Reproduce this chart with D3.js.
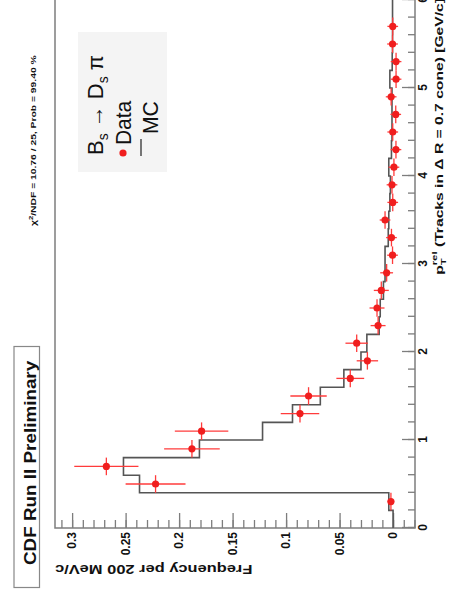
<!DOCTYPE html>
<html>
<head>
<meta charset="utf-8">
<script src="https://cdnjs.cloudflare.com/ajax/libs/d3/7.8.5/d3.min.js"></script>
<style>
  html, body { margin: 0; padding: 0; background: #fff; }
  svg { display: block; font-family: "Liberation Sans", "DejaVu Sans", Arial, sans-serif; }
</style>
</head>
<body>
<svg id="chart" width="451" height="602"></svg>
<script>
// MC histogram (low edge of each 200 MeV bin, frequency)
const mcLow = [0.0, 0.2, 0.4, 0.6, 0.8, 1.0, 1.2, 1.4, 1.6, 1.8,
               2.0, 2.2, 2.4, 2.6, 2.8, 3.0, 3.2, 3.4, 3.6, 3.8,
               4.0, 4.2, 4.4, 4.6, 4.8, 5.0, 5.2, 5.4, 5.6, 5.8]
const mcFreq = [0.000, 0.004, 0.237, 0.252, 0.181, 0.122, 0.094, 0.068, 0.046, 0.030,
                0.0245, 0.013, 0.012, 0.009, 0.0075, 0.0075, 0.0045, 0.004, 0.003, 0.0025,
                0.004, 0.0015, 0.001, 0.001, 0.001, 0.003, 0.0008, 0.0005, 0.0005, 0.0005]

// data points (bin centre, frequency, error)
const dataPt = [0.3, 0.5, 0.7, 0.9, 1.1, 1.3, 1.5, 1.7, 1.9, 2.1,
                2.3, 2.5, 2.7, 2.9, 3.1, 3.3, 3.5, 3.7, 3.9, 4.1,
                4.3, 4.5, 4.7, 4.9, 5.1, 5.3, 5.5, 5.7]
const dataFreq = [0.002, 0.222, 0.268, 0.188, 0.179, 0.087, 0.079, 0.040, 0.024, 0.034,
                  0.014, 0.015, 0.011, 0.006, 0.0005, 0.0015, 0.0075, 0.0003, 0.001, -0.0008,
                  -0.0027, 0.0003, -0.0025, 0.0018, -0.0028, -0.0028, 0.0005, 0.0003]
const dataErr = [0.003, 0.028, 0.030, 0.026, 0.025, 0.018, 0.017, 0.013, 0.010, 0.0105,
                 0.007, 0.007, 0.007, 0.006, 0.005, 0.005, 0.005, 0.005, 0.005, 0.005,
                 0.005, 0.005, 0.005, 0.005, 0.005, 0.005, 0.005, 0.005]

const ptTicks = [0, 1, 2, 3, 4, 5, 6]
const freqTicks = [0, 0.05, 0.1, 0.15, 0.2, 0.25, 0.3]

// the plot is drawn upright (602 x 451) and then turned a quarter turn
let svg = d3.select("#chart")
let chart = svg.append("g").attr("transform", "translate(0,602) rotate(-90)")

let x = d3.scaleLinear().domain([0, 6]).range([74, 602])
let y = d3.scaleLinear().domain([-0.0205, 0.316]).range([415, 55])

// squeeze/stretch a text so that it covers a given width
function fit(text, target) {
  let w = text.node().getBBox().width
  let anchor = text.attr("text-anchor") || "start"
  text.attr("transform", "scale(" + (target / w) + ",1)")
}

// frame
chart.append("rect")
  .attr("x", 74).attr("y", 55)
  .attr("width", 540).attr("height", 360)
  .attr("fill", "none").attr("stroke", "#7d7d7d").attr("stroke-width", 1.5)

// axes
function styleAxis(g) {
  g.select(".domain").remove()
  g.selectAll(".tick line").attr("stroke", "#7d7d7d").attr("stroke-width", 1.3)
  g.selectAll(".tick text").attr("fill", "#111").attr("font-size", 12)
    .attr("font-weight", "bold").attr("font-family", "Liberation Sans, Arial, sans-serif")
}

chart.append("g").attr("transform", "translate(0,415)")
  .call(d3.axisBottom(x).tickValues(d3.range(0, 6.01, 0.2)).tickSize(-7).tickFormat(""))
  .call(styleAxis)
chart.append("g").attr("transform", "translate(0,415)")
  .call(d3.axisBottom(x).tickValues(ptTicks).tickSize(-13).tickPadding(3).tickFormat(d3.format("d")))
  .call(styleAxis)

chart.append("g").attr("transform", "translate(74,0)")
  .call(d3.axisLeft(y).tickValues(d3.range(-0.02, 0.3101, 0.01)).tickSize(-8).tickFormat(""))
  .call(styleAxis)
chart.append("g").attr("transform", "translate(74,0)")
  .call(d3.axisLeft(y).tickValues(freqTicks).tickSize(-15).tickPadding(4)
    .tickFormat(function(d) { return String(+d.toFixed(2)) }))
  .call(styleAxis)

// axis titles
let xt = chart.append("g").attr("transform", "translate(604,443)")
  .append("text").attr("text-anchor", "end")
  .attr("font-size", 11).attr("font-weight", "bold").attr("fill", "#111")
xt.append("tspan").text("p")
xt.append("tspan").attr("font-size", 8).attr("dy", 3).text("T")
xt.append("tspan").attr("font-size", 8).attr("dy", -9).attr("dx", -5).text("rel")
xt.append("tspan").attr("dy", 6).text(" (Tracks in \u0394 R = 0.7 cone) [GeV/c]")
fit(xt, 277)

let yt = chart.append("g").attr("transform", "translate(37,55) rotate(-90)")
  .append("text").attr("text-anchor", "end")
  .attr("font-size", 12).attr("font-weight", "bold").attr("fill", "#111")
  .text("Frequency per 200 MeV/c")
fit(yt, 198)

// MC histogram
let step = d3.line()
  .x(function(d) { return x(d[0]) })
  .y(function(d) { return y(d[1]) })
  .curve(d3.curveStepAfter)
let mcPts = mcLow.map(function(lo, i) { return [lo, mcFreq[i]] })
mcPts.push([6.0, mcFreq[mcFreq.length - 1]])
chart.append("path")
  .attr("d", step(mcPts))
  .attr("fill", "none").attr("stroke", "#555").attr("stroke-width", 1.6)

// data with error bars
let pts = chart.append("g").selectAll("g")
  .data(dataPt.map(function(p, i) { return {pt: p, f: dataFreq[i], e: dataErr[i]} }))
  .enter().append("g")
pts.append("line")
  .attr("x1", function(d) { return x(d.pt - 0.1) })
  .attr("x2", function(d) { return x(d.pt + 0.1) })
  .attr("y1", function(d) { return y(d.f) })
  .attr("y2", function(d) { return y(d.f) })
  .attr("stroke", "#ff3b3b").attr("stroke-width", 1.3)
pts.append("line")
  .attr("x1", function(d) { return x(d.pt) })
  .attr("x2", function(d) { return x(d.pt) })
  .attr("y1", function(d) { return y(d.f - d.e) })
  .attr("y2", function(d) { return y(d.f + d.e) })
  .attr("stroke", "#ff3b3b").attr("stroke-width", 1.3)
pts.append("circle")
  .attr("cx", function(d) { return x(d.pt) })
  .attr("cy", function(d) { return y(d.f) })
  .attr("r", 3.6)
  .attr("fill", "#f01e1e")

// fit quality
let chi = chart.append("g").attr("transform", "translate(376,36)")
  .append("text").attr("font-size", 8).attr("font-weight", "bold").attr("fill", "#111")
chi.append("tspan").text("\u03c7")
chi.append("tspan").attr("font-size", 6).attr("dy", -3).text("2")
chi.append("tspan").attr("dy", 3).text("/NDF = 10.76 / 25, Prob = 99.40 %")
fit(chi, 171)

// CDF label
chart.append("rect")
  .attr("x", 14.5).attr("y", 14).attr("width", 241).attr("height", 25.5)
  .attr("fill", "#fff").attr("stroke", "#888").attr("stroke-width", 1.2)
let cdf = chart.append("g").attr("transform", "translate(37,36)")
  .append("text").attr("font-size", 17).attr("font-weight", "bold").attr("fill", "#111")
  .text("CDF Run II Preliminary")
fit(cdf, 205)

// legend
chart.append("rect")
  .attr("x", 430).attr("y", 78).attr("width", 140).attr("height", 89)
  .attr("fill", "#f4f4f4")
let head = chart.append("g").attr("transform", "translate(447,103)")
  .append("text").attr("font-size", 22).attr("fill", "#111")
head.append("tspan").text("B")
head.append("tspan").attr("font-size", 14).attr("dy", 5).text("s")
head.append("tspan").attr("dy", -5).text(" \u2192 D")
head.append("tspan").attr("font-size", 14).attr("dy", 5).text("s")
head.append("tspan").attr("dy", -5).text(" \u03c0")
fit(head, 100)

chart.append("circle").attr("cx", 449).attr("cy", 123).attr("r", 3.6).attr("fill", "#f01e1e")
let dt = chart.append("g").attr("transform", "translate(457,131)")
  .append("text").attr("font-size", 22).attr("fill", "#111").text("Data")
fit(dt, 45)

chart.append("line").attr("x1", 446).attr("x2", 463).attr("y1", 141).attr("y2", 141)
  .attr("stroke", "#555").attr("stroke-width", 1.6)
let mc = chart.append("g").attr("transform", "translate(468,158)")
  .append("text").attr("font-size", 22).attr("fill", "#111").text("MC")
fit(mc, 33)
</script>
</body>
</html>
